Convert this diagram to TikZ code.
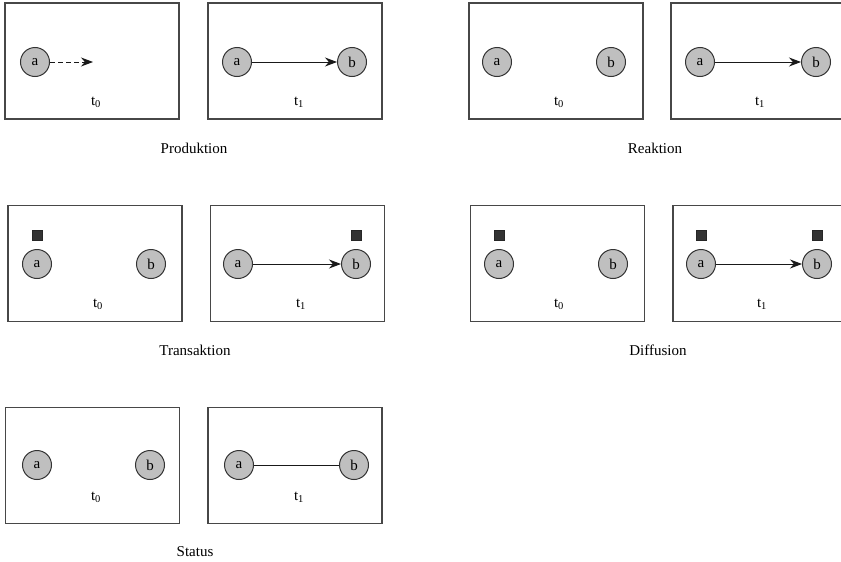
\documentclass[tikz,border=0pt]{standalone}
\usepackage{fontspec}
\setmainfont{Liberation Serif}
\usetikzlibrary{arrows.meta}
\tikzset{
  frame/.style={draw=black!72, line width=1.4pt, minimum width=174pt, minimum height=116pt, inner sep=0pt},
  actor/.style={circle, draw=black!80, line width=1pt, fill=black!25, minimum size=29pt, inner sep=0pt, font=\fontsize{15}{17}\selectfont},
  token/.style={draw=black!85, fill=black!80, minimum size=10pt, inner sep=0pt},
  tlabel/.style={font=\fontsize{15}{17}\selectfont},
  caption/.style={font=\fontsize{15}{18}\selectfont},
  link/.style={line width=1pt, black!90},
  tip/.style={-{Stealth[length=12pt,width=9pt]}},
  dashline/.style={dash pattern=on 5pt off 3pt}
}
\begin{document}
\begin{tikzpicture}[x=1pt,y=-1pt]
\useasboundingbox (0,0) rectangle (841,562);
% ---------- Produktion ----------
\node[frame] (P0) at (92,61) {};
\node[frame] (P1) at (295,61) {};
\node[actor] (Pa0) at (35,62) {a};
\coordinate (Pend) at (93,62);
\draw[link, dashline, tip] (Pa0) -- (Pend);
\node[tlabel] (Pt0) at (96,102) {t\textsubscript{0}};
\node[actor] (Pa1) at (237,62) {a};
\node[actor] (Pb1) at (352,62) {b};
\draw[link, tip] (Pa1) -- (Pb1);
\node[tlabel] (Pt1) at (299,102) {t\textsubscript{1}};
\node[caption] (Pc) at (194,148) {Produktion};
% ---------- Reaktion ----------
\node[frame] (R0) at (556,61) {};
\node[frame] (R1) at (758,61) {};
\node[actor] (Ra0) at (497,62) {a};
\node[actor] (Rb0) at (611,62) {b};
\node[tlabel] (Rt0) at (559,102) {t\textsubscript{0}};
\node[actor] (Ra1) at (700,62) {a};
\node[actor] (Rb1) at (816,62) {b};
\draw[link, tip] (Ra1) -- (Rb1);
\node[tlabel] (Rt1) at (760,102) {t\textsubscript{1}};
\node[caption] (Rc) at (655,148) {Reaktion};
% ---------- Transaktion ----------
\node[frame] (T0) at (95,263.5) {};
\node[frame] (T1) at (297.5,263.5) {};
\node[actor] (Ta0) at (37,264) {a};
\node[actor] (Tb0) at (151,264) {b};
\node[token] (Tk0) at (37,235) {};
\node[tlabel] (Tt0) at (98,304) {t\textsubscript{0}};
\node[actor] (Ta1) at (238,264) {a};
\node[actor] (Tb1) at (356,264) {b};
\node[token] (Tk1) at (356,235) {};
\draw[link, tip] (Ta1) -- (Tb1);
\node[tlabel] (Tt1) at (301,304) {t\textsubscript{1}};
\node[caption] (Tc) at (195,350) {Transaktion};
% ---------- Diffusion ----------
\node[frame] (D0) at (557.5,263.5) {};
\node[frame] (D1) at (760,263.5) {};
\node[actor] (Da0) at (499,264) {a};
\node[actor] (Db0) at (613,264) {b};
\node[token] (Dk0) at (499,235) {};
\node[tlabel] (Dt0) at (559,304) {t\textsubscript{0}};
\node[actor] (Da1) at (701,264) {a};
\node[actor] (Db1) at (817,264) {b};
\node[token] (Dk1) at (701,235) {};
\node[token] (Dk2) at (817,235) {};
\draw[link, tip] (Da1) -- (Db1);
\node[tlabel] (Dt1) at (762,304) {t\textsubscript{1}};
\node[caption] (Dc) at (658,350) {Diffusion};
% ---------- Status ----------
\node[frame] (S0) at (92.5,465.5) {};
\node[frame] (S1) at (295,465.5) {};
\node[actor] (Sa0) at (37,465) {a};
\node[actor] (Sb0) at (150,465) {b};
\node[tlabel] (St0) at (96,497) {t\textsubscript{0}};
\node[actor] (Sa1) at (239,465) {a};
\node[actor] (Sb1) at (354,465) {b};
\draw[link] (Sa1) -- (Sb1);
\node[tlabel] (St1) at (299,497) {t\textsubscript{1}};
\node[caption] (Sc) at (195,552) {Status};
\end{tikzpicture}
\end{document}
